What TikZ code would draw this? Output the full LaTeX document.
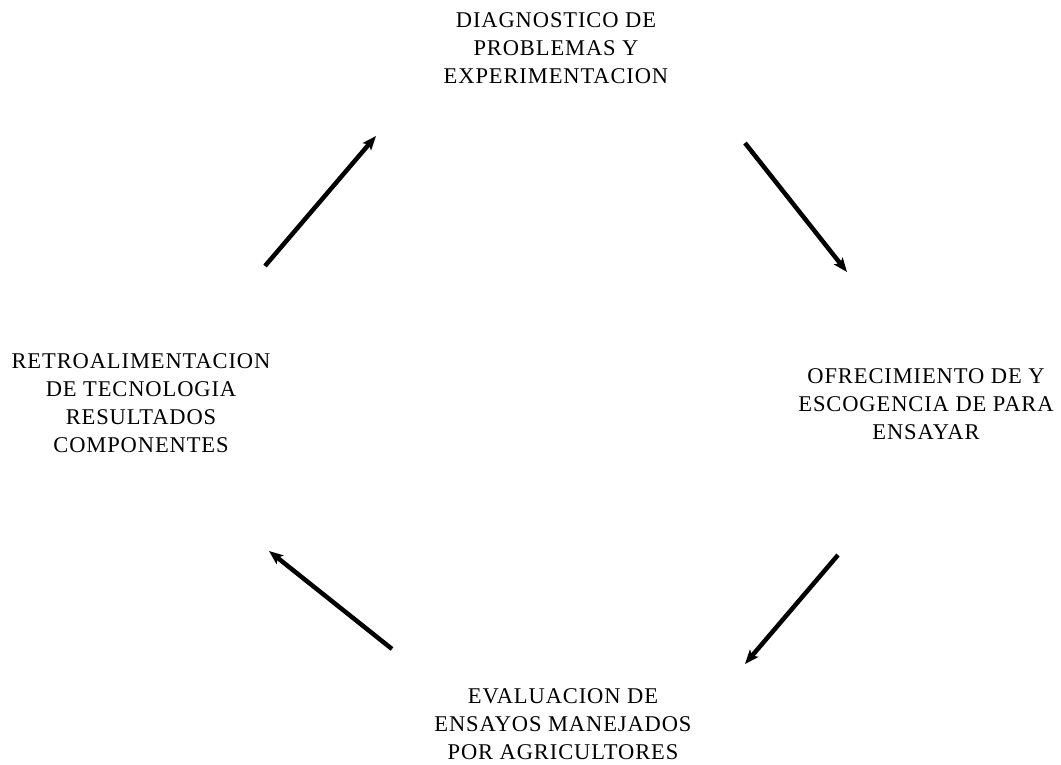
\documentclass[tikz,border=0pt]{standalone}
\usepackage{fontspec}
\setmainfont{Liberation Serif}[LetterSpace=4]
\usetikzlibrary{arrows.meta}
\begin{document}
\begin{tikzpicture}[x=1pt,y=-1pt,
  lbl/.style={align=center,inner sep=0pt,font=\fontsize{22.5}{28}\selectfont},
  flow/.style={line width=4.5pt,-{Stealth[length=14pt,width=11pt,inset=3pt]}}]
\useasboundingbox[fill=white] (0,0) rectangle (1061,765);
\node[lbl] (diag) at (556,48) {DIAGNOSTICO DE\\PROBLEMAS Y\\EXPERIMENTACION};
\node[lbl] (ofre) at (926,404) {OFRECIMIENTO DE Y\\ESCOGENCIA DE PARA\\ENSAYAR};
\node[lbl] (eval) at (563,724) {EVALUACION DE\\ENSAYOS MANEJADOS\\POR AGRICULTORES};
\node[lbl] (retro) at (141,403) {RETROALIMENTACION\\DE TECNOLOGIA\\RESULTADOS\\COMPONENTES};
\coordinate (a1s) at (265,266);
\coordinate (a1e) at (376,136);
\coordinate (a2s) at (745,143);
\coordinate (a2e) at (847,272);
\coordinate (a3s) at (838,555);
\coordinate (a3e) at (745,664);
\coordinate (a4s) at (392,649);
\coordinate (a4e) at (269,551);
\draw[flow] (a1s) -- (a1e);
\draw[flow] (a2s) -- (a2e);
\draw[flow] (a3s) -- (a3e);
\draw[flow] (a4s) -- (a4e);
\end{tikzpicture}
\end{document}
